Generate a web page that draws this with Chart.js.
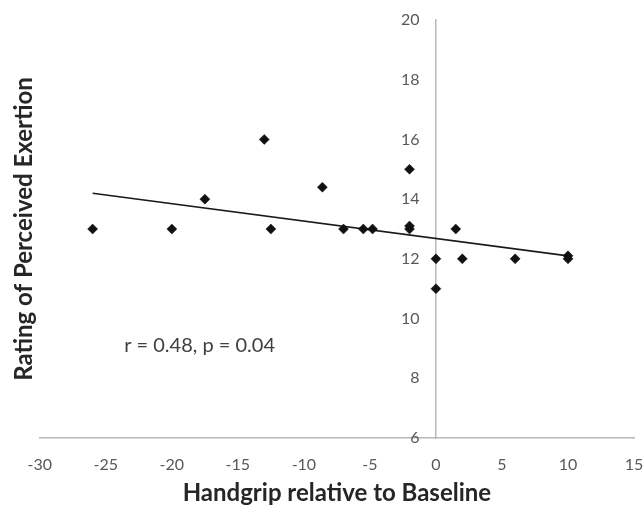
<!DOCTYPE html>
<html>
<head>
<meta charset="utf-8">
<script src="https://cdn.jsdelivr.net/npm/chart.js@4/dist/chart.umd.min.js"></script>
<style>
  html, body { margin: 0; padding: 0; background: #fff; }
  #wrap { width: 643px; height: 508px; }
</style>
</head>
<body>
<div id="wrap"><canvas id="chart"></canvas></div>
<script>
// handgrip change vs baseline (x) and RPE (y)
const handgrip = [-26, -20, -17.5, -13, -12.5, -8.6, -7, -5.5, -4.8, -2, -2, -2, 0, 0, 1.5, 2, 6, 10, 10];
const rpe      = [13, 13, 14, 16, 13, 14.4, 13, 13, 13, 13, 13.1, 15, 12, 11, 13, 12, 12, 12, 12.1];

// trendline end points
const trendX = [-26, 10];
const trendY = [14.2, 12.1];

const statsText = 'r = 0.48, p = 0.04';
const statsAt = [-17.9, 9.1];

const xTicks = [-30, -25, -20, -15, -10, -5, 0, 5, 10, 15];
const yTicks = [6, 8, 10, 12, 14, 16, 18, 20];

const FONT = 'Lato, "Open Sans", sans-serif';
const TICK_COLOR = '#595959';
const AXIS_COLOR = '#b8b8b8';

const statsLabel = {
    id: 'statsLabel',
    afterDatasetsDraw(chart) {
        const ctx = chart.ctx;
        const x = chart.scales.x.getPixelForValue(statsAt[0]);
        const y = chart.scales.y.getPixelForValue(statsAt[1]);
        ctx.save();
        ctx.font = '20px ' + FONT;
        ctx.fillStyle = '#404040';
        ctx.textAlign = 'center';
        ctx.textBaseline = 'middle';
        ctx.fillText(statsText, x, y);
        ctx.restore();
    }
};

new Chart(document.getElementById('chart'), {
    type: 'scatter',
    data: {
        datasets: [
            {
                label: 'RPE',
                data: handgrip.map((h, i) => ({ x: h, y: rpe[i] })),
                pointStyle: 'rectRot',
                pointRadius: 5,
                pointBackgroundColor: '#111',
                pointBorderColor: '#111',
                pointBorderWidth: 0.5,
                showLine: false,
                order: 1
            },
            {
                label: 'Trend',
                data: trendX.map((t, i) => ({ x: t, y: trendY[i] })),
                showLine: true,
                borderColor: '#1a1a1a',
                borderWidth: 1.6,
                pointRadius: 0,
                order: 2
            }
        ]
    },
    options: {
        responsive: true,
        maintainAspectRatio: false,
        animation: false,
        layout: { padding: { left: 4, right: 9, top: 20, bottom: 0 } },
        plugins: {
            legend: { display: false },
            tooltip: { enabled: false }
        },
        scales: {
            x: {
                type: 'linear',
                position: 'bottom',
                min: -30,
                max: 15,
                afterBuildTicks: (s) => { s.ticks = xTicks.map(v => ({ value: v })); },
                // tick padding would otherwise also eat into the side margins
                afterFit: (s) => { s.height = 70; s.paddingLeft = 0; s.paddingRight = 0; },
                grid: { display: false, drawTicks: false },
                border: { display: true, color: AXIS_COLOR, width: 1.5 },
                ticks: { color: TICK_COLOR, font: { family: FONT, size: 16 }, padding: 17, maxRotation: 0 },
                title: {
                    display: true,
                    text: 'Handgrip relative to Baseline',
                    color: '#262626',
                    font: { family: FONT, size: 24, weight: 'bold' },
                    padding: { top: 0, bottom: 0 }
                }
            },
            y: {
                type: 'linear',
                position: { x: 0 },
                min: 6,
                max: 20,
                afterBuildTicks: (s) => { s.ticks = yTicks.map(v => ({ value: v })); },
                afterFit: (s) => { s.width = 0; },
                grid: { display: false, drawTicks: false },
                border: { display: true, color: AXIS_COLOR, width: 1.5 },
                // labels sit right against an axis placed at x = 0, pad them with spaces
                ticks: { color: TICK_COLOR, font: { family: FONT, size: 16 }, callback: (v) => v + '    ' }
            },
            yTitle: {
                type: 'linear',
                position: 'left',
                min: 6,
                max: 20,
                grid: { display: false, drawTicks: false },
                border: { display: false },
                ticks: { display: false },
                title: {
                    display: true,
                    text: 'Rating of Perceived Exertion',
                    color: '#262626',
                    font: { family: FONT, size: 24, weight: 'bold' },
                    padding: { top: 6, bottom: 1 }
                }
            }
        }
    },
    plugins: [statsLabel]
});
</script>
</body>
</html>
